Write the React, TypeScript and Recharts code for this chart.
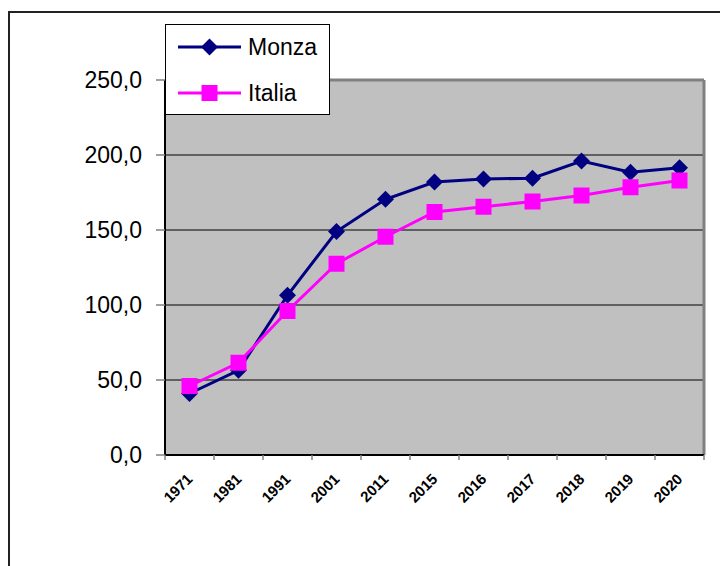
import { LineChart, Line, XAxis, YAxis, CartesianGrid, Legend, ReferenceLine } from 'recharts'

const years = ['1971', '1981', '1991', '2001', '2011', '2015', '2016', '2017', '2018', '2019', '2020']
const monza = [41, 56.5, 106.5, 149, 170.5, 182, 184, 184.5, 196, 188.5, 191.5]
const italia = [46, 61.5, 96, 127.5, 145.5, 162, 165.5, 169, 173, 178.5, 183]
const yTicks = [0, 50, 100, 150, 200, 250]

const MONZA_COLOR = '#000080'
const ITALIA_COLOR = '#FF00FF'
const FONT = '"Liberation Sans", Arial, sans-serif'

// points sit in the middle of each category slot, ticks on the slot boundaries
const data = years.map((y, i) => ({ pos: i + 0.5, year: y, monza: monza[i], italia: italia[i] }))
const xTicks: number[] = []
for (let i = 0; i <= years.length; i++) {
  xTicks.push(i)
  if (i < years.length) xTicks.push(i + 0.5)
}

const Diamond = (props: any) => {
  const { cx, cy } = props
  if (cx == null || cy == null) return null
  const r = 8.5
  return <path d={`M${cx},${cy - r}L${cx + r},${cy}L${cx},${cy + r}L${cx - r},${cy}Z`} fill={MONZA_COLOR} />
}

const Square = (props: any) => {
  const { cx, cy } = props
  if (cx == null || cy == null) return null
  const s = 16
  return <rect x={cx - s / 2} y={cy - s / 2} width={s} height={s} fill={ITALIA_COLOR} />
}

const XTick = (props: any) => {
  const { x, y, payload } = props
  const v = payload.value
  if (Number.isInteger(v)) {
    return <line x1={x} y1={y} x2={x} y2={y + 5} stroke="#808080" strokeWidth={1.5} />
  }
  const label = years[Math.floor(v)]
  return (
    <text
      x={x + 4}
      y={y + 25}
      transform={`rotate(-45 ${x + 4} ${y + 25})`}
      textAnchor="end"
      fontFamily={FONT}
      fontWeight="bold"
      fontSize={15}
      fill="#000"
    >
      {label}
    </text>
  )
}

const LegendBox = () => {
  const rows = [
    { name: 'Monza', color: MONZA_COLOR, marker: 'diamond', y: 23 },
    { name: 'Italia', color: ITALIA_COLOR, marker: 'square', y: 69 },
  ]
  return (
    <svg width={165} height={91} style={{ display: 'block' }}>
      <rect x={0.5} y={0.5} width={164} height={90} fill="#fff" stroke="#000" />
      {rows.map((r) => (
        <g key={r.name}>
          <line x1={13} y1={r.y} x2={76} y2={r.y} stroke={r.color} strokeWidth={3} />
          {r.marker === 'diamond' ? (
            <Diamond cx={44.5} cy={r.y} />
          ) : (
            <Square cx={44.5} cy={r.y} />
          )}
          <text x={83} y={r.y + 8} fontFamily={FONT} fontSize={23} fill="#000">
            {r.name}
          </text>
        </g>
      ))}
    </svg>
  )
}

export default function App() {
  return (
    <div style={{ position: 'absolute', left: 0, top: 0, width: 720, height: 566, background: '#fff' }}>
      <div
        style={{
          position: 'absolute',
          left: 8,
          top: 11,
          width: 710,
          height: 555,
          borderLeft: '2px solid #222',
          borderTop: '2px solid #222',
        }}
      />
      <div style={{ position: 'absolute', left: 0, top: 0 }}>
        <LineChart width={720} height={566} data={data} margin={{ top: 80, right: 16, bottom: 0, left: 0 }}>
          <CartesianGrid vertical={false} stroke="#000" strokeOpacity={1} fill="#C0C0C0" fillOpacity={1} />
          <ReferenceLine y={250} stroke="#808080" strokeWidth={3} />
          <ReferenceLine x={years.length} stroke="#808080" strokeWidth={3} />
          <XAxis
            dataKey="pos"
            type="number"
            domain={[0, years.length]}
            ticks={xTicks}
            interval={0}
            tickLine={false}
            tickSize={0}
            tickMargin={0}
            axisLine={{ stroke: '#000', strokeWidth: 2 }}
            tick={<XTick />}
            height={111}
          />
          <YAxis
            domain={[0, 250]}
            ticks={yTicks}
            interval={0}
            width={165}
            tickSize={9}
            tickMargin={14}
            tickLine={{ stroke: '#808080', strokeWidth: 1.5 }}
            axisLine={{ stroke: '#000', strokeWidth: 2 }}
            tickFormatter={(v: number) => v.toFixed(1).replace('.', ',')}
            tick={{ fill: '#000', fontSize: 23, fontFamily: FONT }}
          />
          <Legend
            layout="vertical"
            align="center"
            verticalAlign="middle"
            content={() => <LegendBox />}
            wrapperStyle={{ left: 165, top: 24, width: 165, height: 91 }}
          />
          <Line
            dataKey="monza"
            name="Monza"
            stroke={MONZA_COLOR}
            strokeWidth={3}
            dot={<Diamond />}
            activeDot={false}
            isAnimationActive={false}
          />
          <Line
            dataKey="italia"
            name="Italia"
            stroke={ITALIA_COLOR}
            strokeWidth={3}
            dot={<Square />}
            activeDot={false}
            isAnimationActive={false}
          />
        </LineChart>
      </div>
    </div>
  )
}
